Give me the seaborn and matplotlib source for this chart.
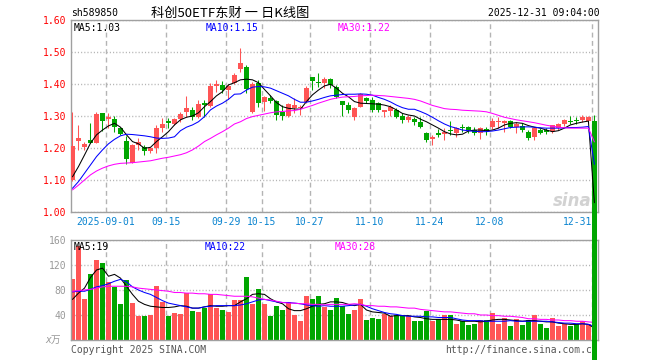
import matplotlib
matplotlib.use("Agg")
import matplotlib.pyplot as plt
import seaborn as sns
import numpy as np

# daily candles, 2025-08-22 .. 2025-12-31 (88 trading days)
open_ = [1.101, 1.224, 1.203, 1.226, 1.218, 1.311, 1.291, 1.291, 1.262, 1.223,
         1.155, 1.210, 1.203, 1.193, 1.200, 1.265, 1.285, 1.276, 1.292, 1.315,
         1.320, 1.299, 1.343, 1.333, 1.395, 1.398, 1.382, 1.405, 1.447, 1.453,
         1.315, 1.405, 1.346, 1.356, 1.348, 1.312, 1.301, 1.325, 1.325, 1.346,
         1.422, 1.405, 1.403, 1.416, 1.393, 1.348, 1.335, 1.299, 1.330, 1.356,
         1.351, 1.341, 1.313, 1.318, 1.320, 1.301, 1.289, 1.292, 1.283, 1.249,
         1.228, 1.247, 1.244, 1.256, 1.249, 1.267, 1.268, 1.257, 1.249, 1.260,
         1.266, 1.283, 1.278, 1.285, 1.266, 1.270, 1.252, 1.234, 1.257, 1.257,
         1.255, 1.262, 1.276, 1.285, 1.286, 1.288, 1.285, 1.285]
high = [1.315, 1.273, 1.221, 1.278, 1.315, 1.311, 1.311, 1.301, 1.268, 1.239,
        1.212, 1.231, 1.210, 1.205, 1.273, 1.294, 1.294, 1.294, 1.315, 1.364,
        1.330, 1.351, 1.351, 1.405, 1.414, 1.411, 1.400, 1.435, 1.512, 1.460,
        1.408, 1.414, 1.363, 1.367, 1.351, 1.335, 1.341, 1.356, 1.335, 1.395,
        1.424, 1.434, 1.422, 1.419, 1.398, 1.348, 1.346, 1.330, 1.374, 1.361,
        1.361, 1.346, 1.320, 1.335, 1.325, 1.309, 1.304, 1.299, 1.299, 1.252,
        1.242, 1.259, 1.263, 1.286, 1.266, 1.276, 1.270, 1.266, 1.266, 1.268,
        1.294, 1.297, 1.289, 1.289, 1.283, 1.278, 1.257, 1.266, 1.263, 1.262,
        1.273, 1.280, 1.292, 1.300, 1.298, 1.304, 1.300, 1.304]
low = [1.098, 1.195, 1.195, 1.216, 1.216, 1.255, 1.262, 1.252, 1.242, 1.151,
       1.153, 1.195, 1.179, 1.184, 1.184, 1.252, 1.262, 1.273, 1.283, 1.299,
       1.289, 1.294, 1.299, 1.330, 1.377, 1.372, 1.355, 1.400, 1.440, 1.372,
       1.309, 1.330, 1.318, 1.341, 1.289, 1.289, 1.299, 1.309, 1.304, 1.341,
       1.382, 1.393, 1.388, 1.388, 1.356, 1.301, 1.309, 1.289, 1.328, 1.341,
       1.315, 1.315, 1.297, 1.301, 1.294, 1.278, 1.283, 1.273, 1.263, 1.221,
       1.210, 1.236, 1.226, 1.242, 1.236, 1.252, 1.249, 1.242, 1.228, 1.242,
       1.259, 1.263, 1.252, 1.263, 1.247, 1.252, 1.226, 1.226, 1.245, 1.245,
       1.247, 1.258, 1.270, 1.275, 1.276, 1.283, 1.280, 0.030]
close = [1.207, 1.231, 1.214, 1.218, 1.307, 1.285, 1.299, 1.268, 1.245, 1.167,
         1.210, 1.221, 1.193, 1.200, 1.263, 1.275, 1.278, 1.291, 1.307, 1.325,
         1.297, 1.338, 1.335, 1.395, 1.401, 1.382, 1.395, 1.430, 1.468, 1.384,
         1.401, 1.343, 1.361, 1.348, 1.304, 1.301, 1.339, 1.335, 1.330, 1.388,
         1.410, 1.403, 1.416, 1.398, 1.361, 1.335, 1.320, 1.325, 1.369, 1.349,
         1.320, 1.320, 1.320, 1.330, 1.299, 1.289, 1.297, 1.283, 1.266, 1.226,
         1.234, 1.242, 1.252, 1.254, 1.263, 1.265, 1.257, 1.249, 1.263, 1.258,
         1.286, 1.285, 1.285, 1.266, 1.276, 1.257, 1.231, 1.263, 1.249, 1.252,
         1.272, 1.276, 1.288, 1.283, 1.284, 1.299, 1.297, 0.030]

ma5 = [1.111, 1.143, 1.179, 1.216, 1.242, 1.257, 1.270, 1.278, 1.266, 1.242,
       1.221, 1.214, 1.200, 1.203, 1.221, 1.236, 1.252, 1.273, 1.289, 1.297,
       1.301, 1.311, 1.330, 1.346, 1.364, 1.377, 1.398, 1.405, 1.414, 1.416,
       1.414, 1.405, 1.384, 1.364, 1.343, 1.330, 1.325, 1.323, 1.322, 1.346,
       1.367, 1.382, 1.395, 1.400, 1.388, 1.372, 1.361, 1.346, 1.341, 1.340,
       1.339, 1.338, 1.335, 1.330, 1.320, 1.309, 1.304, 1.301, 1.291, 1.283,
       1.273, 1.263, 1.252, 1.245, 1.242, 1.244, 1.254, 1.257, 1.257, 1.255,
       1.257, 1.263, 1.273, 1.278, 1.280, 1.278, 1.271, 1.266, 1.263, 1.257,
       1.252, 1.255, 1.263, 1.273, 1.278, 1.282, 1.285, 1.030]
ma10 = [1.075, 1.096, 1.122, 1.148, 1.174, 1.195, 1.214, 1.228, 1.239, 1.244,
        1.243, 1.241, 1.239, 1.236, 1.232, 1.231, 1.232, 1.236, 1.255, 1.266,
        1.273, 1.283, 1.299, 1.320, 1.332, 1.341, 1.353, 1.369, 1.370, 1.382,
        1.391, 1.393, 1.392, 1.388, 1.380, 1.372, 1.364, 1.353, 1.344, 1.344,
        1.348, 1.353, 1.359, 1.364, 1.366, 1.368, 1.369, 1.369, 1.370, 1.369,
        1.366, 1.359, 1.353, 1.345, 1.335, 1.327, 1.322, 1.322, 1.315, 1.307,
        1.297, 1.286, 1.276, 1.268, 1.263, 1.257, 1.255, 1.253, 1.252, 1.252,
        1.254, 1.257, 1.261, 1.265, 1.266, 1.267, 1.267, 1.266, 1.264, 1.263,
        1.263, 1.263, 1.264, 1.265, 1.265, 1.266, 1.268, 1.150]
ma30 = [1.070, 1.085, 1.101, 1.117, 1.129, 1.138, 1.145, 1.150, 1.153, 1.154,
        1.155, 1.157, 1.159, 1.161, 1.165, 1.169, 1.172, 1.176, 1.180, 1.186,
        1.195, 1.207, 1.221, 1.231, 1.242, 1.252, 1.263, 1.276, 1.283, 1.293,
        1.299, 1.303, 1.307, 1.311, 1.314, 1.315, 1.317, 1.318, 1.322, 1.328,
        1.334, 1.341, 1.347, 1.353, 1.357, 1.360, 1.361, 1.362, 1.364, 1.365,
        1.366, 1.365, 1.364, 1.362, 1.360, 1.358, 1.356, 1.353, 1.348, 1.341,
        1.334, 1.329, 1.324, 1.322, 1.321, 1.319, 1.318, 1.317, 1.316, 1.314,
        1.309, 1.303, 1.297, 1.293, 1.289, 1.286, 1.283, 1.280, 1.276, 1.272,
        1.269, 1.266, 1.264, 1.263, 1.263, 1.263, 1.263, 1.220]

# volume (x10k)
volume = [97, 150, 66, 105, 128, 123, 93, 85, 58, 96,
          60, 38, 39, 40, 86, 61, 39, 44, 42, 76,
          46, 45, 51, 74, 52, 48, 45, 64, 64, 101,
          57, 81, 57, 38, 55, 48, 61, 40, 31, 71,
          65, 70, 53, 48, 68, 55, 42, 48, 66, 32,
          36, 34, 41, 38, 40, 39, 39, 31, 31, 47,
          30, 34, 40, 40, 26, 30, 24, 25, 32, 32,
          44, 26, 35, 23, 34, 24, 32, 40, 26, 19,
          35, 23, 26, 22, 25, 30, 26, 8]
vma5 = [65, 75, 83, 100, 112, 115, 102, 105, 99, 86,
        73, 62, 57, 54, 53, 52, 52, 53, 55, 54,
        51, 51, 53, 55, 54, 54, 55, 55, 61, 66,
        73, 74, 73, 66, 61, 58, 50, 47, 47, 50,
        54, 57, 58, 61, 61, 60, 57, 55, 57, 48,
        45, 44, 43, 38, 39, 39, 39, 37, 36, 34,
        33, 33, 33, 33, 32, 30, 30, 30, 29, 30,
        32, 33, 33, 32, 31, 30, 31, 31, 30, 29,
        29, 27, 26, 25, 25, 26, 25, 19]
vma10 = [77, 78, 78, 81, 85, 87, 90, 94, 97, 93,
         85, 80, 76, 73, 68, 63, 59, 57, 55, 53,
         51, 51, 53, 54, 55, 55, 55, 55, 56, 58,
         61, 64, 65, 63, 61, 60, 60, 59, 58, 56,
         55, 54, 55, 54, 54, 54, 55, 56, 57, 54,
         50, 47, 44, 42, 41, 39, 38, 38, 38, 37,
         37, 36, 36, 36, 34, 32, 31, 31, 31, 30,
         30, 30, 30, 31, 30, 30, 30, 30, 30, 30,
         29, 28, 27, 27, 26, 26, 25, 22]
vma30 = [78, 79, 80, 81, 83, 85, 86, 86, 86, 86,
         85, 83, 82, 81, 80, 79, 78, 76, 76, 75,
         75, 74, 74, 73, 73, 72, 71, 70, 70, 70,
         69, 67, 65, 64, 62, 60, 59, 59, 58, 58,
         57, 57, 56, 57, 57, 57, 57, 58, 57, 55,
         55, 54, 54, 53, 53, 52, 51, 51, 49, 48,
         47, 46, 45, 45, 44, 43, 42, 42, 40, 40,
         39, 39, 38, 38, 37, 36, 34, 34, 33, 33,
         32, 32, 31, 31, 30, 30, 29, 28]

tick_pos = [6, 16, 26, 32, 40, 50, 60, 70, 87]
tick_labels = ["2025-09-01", "09-15", "09-29", "10-15", "10-27",
               "11-10", "11-24", "12-08", "12-31"]
price_ticks = [1.00, 1.10, 1.20, 1.30, 1.40, 1.50, 1.60]
vol_ticks = [40, 80, 120, 160]

RED = "#ff5555"
GREEN = "#00a600"
FRAME = "#a0a0a0"
GRID = "#b4b4b4"
LW = 0.75

sns.set_theme(style="white")
plt.rcParams['font.family'] = ['DejaVu Sans Mono', 'Noto Sans CJK SC']

o = np.array(open_)
c = np.array(close)
x = np.arange(len(o))
colors = np.where(c >= o, RED, GREEN)

fig = plt.figure(figsize=(6.6, 3.6), dpi=100)
W, H = 660.0, 360.0
L, R = 71.0, 598.0
ax = fig.add_axes([L / W, 1 - 212.3 / H, (R - L) / W, 192.0 / H])
axv = fig.add_axes([L / W, 1 - 340.0 / H, (R - L) / W, 100.0 / H])
ax.set_zorder(3)
ax.patch.set_visible(False)
axv.set_zorder(1)

grid_x = [p - 0.42 for p in tick_pos]
xlim = (-0.25, 87.6)
dash = (0, (3.5, 2.5))
dots = (0, (0.8, 1.5))

# ---- price panel
ax.vlines(x, low, high, colors=colors, lw=LW, zorder=3)
body_bottom = np.minimum(o, c)
body_h = np.maximum(np.abs(c - o), 0.003)
bars = ax.bar(x, body_h, bottom=body_bottom, width=0.8, color=colors,
              linewidth=0, zorder=3)
bars[-1].set_clip_on(False)

sns.lineplot(x=x, y=ma5, ax=ax, color="black", lw=LW, zorder=4)
sns.lineplot(x=x, y=ma10, ax=ax, color="#0000ff", lw=LW, zorder=4)
sns.lineplot(x=x, y=ma30, ax=ax, color="#ff00ff", lw=LW, zorder=4)

ax.set_xlim(*xlim)
ax.set_ylim(1.0, 1.6)
ax.set_yticks(price_ticks)
ax.set_yticklabels([f"{v:.2f}" for v in price_ticks])
ax.set_xticks(grid_x)
ax.set_xticklabels(tick_labels)
ax.xaxis.get_majorticklabels()[-1].set_horizontalalignment("right")
ax.tick_params(axis="y", length=0, pad=3.5, labelsize=7, labelcolor="#ff0000")
ax.tick_params(axis="x", length=0, pad=3.5, labelsize=7, labelcolor="#0a84d0")
ax.xaxis.grid(True, color=GRID, ls=dash, lw=1)
ax.yaxis.grid(True, color=GRID, ls=dots, lw=1)
ax.set_axisbelow(True)
ax.set_xlabel("")
ax.set_ylabel("")
for s in ax.spines.values():
    s.set_color(FRAME)
    s.set_linewidth(1)

ax.text(83.3, 1.035, "sina", fontsize=12, fontstyle="italic",
        fontweight="bold", color="#d2d2d2", family="DejaVu Sans",
        ha="center", va="center", zorder=1)

# ---- volume panel
axv.bar(x, volume, width=0.82, color=colors, linewidth=0, zorder=2)
sns.lineplot(x=x, y=vma5, ax=axv, color="black", lw=LW, zorder=3)
sns.lineplot(x=x, y=vma10, ax=axv, color="#0000ff", lw=LW, zorder=3)
sns.lineplot(x=x, y=vma30, ax=axv, color="#ff00ff", lw=LW, zorder=3)
axv.set_xlim(*xlim)
axv.set_ylim(0, 160)
axv.set_yticks(vol_ticks)
axv.set_xticks(grid_x)
axv.set_xticklabels([])
axv.tick_params(axis="y", length=0, pad=3.5, labelsize=7, labelcolor="#999999")
axv.tick_params(axis="x", length=0)
axv.xaxis.grid(True, color=GRID, ls=dash, lw=1)
axv.yaxis.grid(True, color=GRID, ls=dots, lw=1)
axv.set_axisbelow(True)
axv.set_xlabel("")
axv.set_ylabel("")
for s in axv.spines.values():
    s.set_color(FRAME)
    s.set_linewidth(1)

axv.text(-0.02, 0.0, "x万", transform=axv.transAxes, fontsize=7,
         color="#999999", fontstyle="italic", ha="right", va="center",
         family=["DejaVu Sans Mono", "Noto Sans CJK SC"])
axv.text(0.0, -0.05, "Copyright 2025 SINA.COM", transform=axv.transAxes,
         fontsize=7, color="#555555", ha="left", va="top", clip_on=False)
axv.text(1.0, -0.05, "http://finance.sina.com.cn", transform=axv.transAxes,
         fontsize=7, color="#555555", ha="right", va="top", clip_on=False)

# ---- header and MA labels
fig.text(L / W, 1 - 13 / H, "sh589850", fontsize=7, color="black", va="center")
fig.text(151 / W, 1 - 13 / H, "科创50ETF东财 一 日K线图", fontsize=9.5,
         color="black", va="center", family=["Noto Sans CJK SC", "DejaVu Sans"])
fig.text(600 / W, 1 - 13 / H, "2025-12-31 09:04:00", fontsize=7,
         color="black", va="center", ha="right")

fig.text(74 / W, 1 - 28 / H, f"MA5:{ma5[-1]:.2f}", fontsize=7, color="black", va="center")
fig.text(206 / W, 1 - 28 / H, f"MA10:{ma10[-1]:.2f}", fontsize=7, color="#0000ff", va="center")
fig.text(338 / W, 1 - 28 / H, f"MA30:{ma30[-1]:.2f}", fontsize=7, color="#ff00ff", va="center")

fig.text(74 / W, 1 - 247 / H, f"MA5:{vma5[-1]}", fontsize=7, color="black", va="center")
fig.text(205 / W, 1 - 247 / H, f"MA10:{vma10[-1]}", fontsize=7, color="#0000ff", va="center")
fig.text(335 / W, 1 - 247 / H, f"MA30:{vma30[-1]}", fontsize=7, color="#ff00ff", va="center")

fig.savefig("out.png", dpi=100, facecolor="white")
